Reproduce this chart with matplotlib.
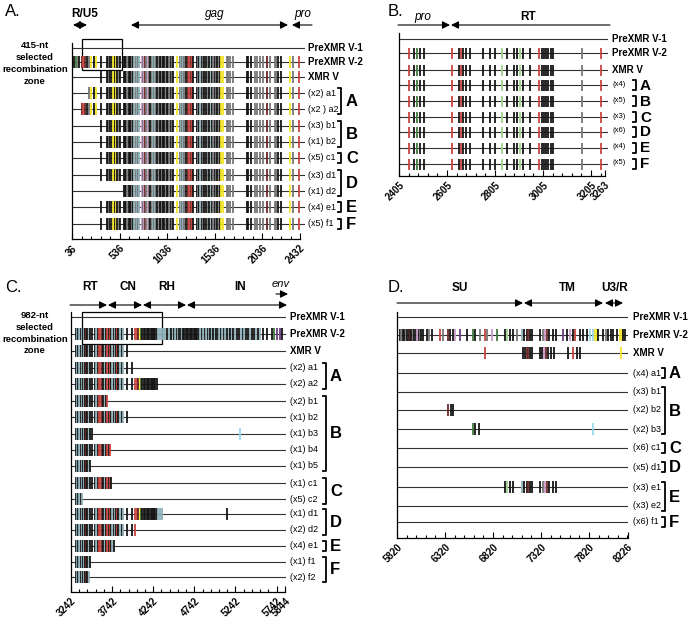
import matplotlib
matplotlib.use("Agg")
import matplotlib.pyplot as plt
from matplotlib.patches import Rectangle, FancyArrowPatch

plt.rcParams['font.family'] = ['Liberation Sans', 'DejaVu Sans']

# ---------------- data ----------------
# colour codes for the mutation ticks
COLORS = {'k': '#161616', 'g': '#777777', 'b': '#8fb0b8', 'p': '#c99ac9',
          'r': '#c8443e', 'd': '#6b2626', 'y': '#f2e526', 'n': '#3f7a3f',
          'l': '#9fd38f', 'c': '#9ad6e6', 'v': '#6b3d82'}

# panel A (nt 36-2432)
a_pos = [58, 75, 95, 112, 140, 155, 170, 190, 215, 240, 262, 290, 340,
         400, 412, 425, 438, 452, 470, 484, 498, 512, 526, 540,
         582, 594, 606, 618, 630, 642, 655, 668, 680,
         692, 704, 716, 728, 740,
         767, 780, 792, 804, 818, 830, 843, 855,
         872, 884, 896, 908, 920, 932, 946, 960,
         972, 984, 996, 1008, 1020, 1032, 1044, 1058, 1072, 1086, 1100,
         1135, 1170, 1182, 1194, 1206, 1218, 1230,
         1257, 1270, 1284, 1298, 1310,
         1345, 1358, 1370, 1384, 1398, 1412, 1425, 1440,
         1467, 1480, 1494, 1508, 1522, 1536, 1550, 1564, 1578, 1590,
         1607, 1622, 1660, 1680, 1700, 1730,
         1870, 1882, 1922, 1957, 1975, 2010, 2045, 2080, 2115, 2167, 2185,
         2202, 2237, 2325, 2360, 2420]
a_col = ("kngkdrdkgykyk"
         "kkgkkykykgk"
         "kkkgkkkgk"
         "bgbgb"
         "pgpdgpgk"
         "gbgbgkgk"
         "kgkkgkkgkgk"
         "ygbgbgk"
         "drdrk"
         "kgkbkgkk"
         "gkbkgkgkgk"
         "yygggg"
         "kkkggggdggg"
         "kkygr")
a_rows = ["PreXMR V-1", "PreXMR V-2", "XMR V", "(x2) a1", "(x2 ) a2", "(x3) b1",
          "(x1) b2", "(x5) c1", "(x3) d1", "(x1) d2", "(x4) e1", "(x5) f1"]
a_start = [None, 36, 340, 197, 137, 340, 295, 295, 340, 557, 340, 340]
a_groups = [("A", 3, 4), ("B", 5, 6), ("C", 7, 7), ("D", 8, 9), ("E", 10, 10), ("F", 11, 11)]

# panel B (nt 2405-3263)
b_pos = [2448, 2468, 2479, 2493, 2509, 2624, 2655, 2662, 2673, 2684, 2701,
         2754, 2784, 2805, 2833, 2854, 2884, 2895, 2909, 2920, 2951,
         2990, 3000, 3009, 3018, 3027, 3037, 3045, 3166, 3245]
b_col = "rknkkrkrkkkkkklkkklkkrkkkkkkgr"
b_rows = ["PreXMR V-1", "PreXMR V-2", "XMR V", "(x4)", "(x5)", "(x3)", "(x6)", "(x4)", "(x5)"]
b_letters = ["A", "B", "C", "D", "E", "F"]

# panel C (nt 3242-5844)
c_pos = [3303, 3316, 3330, 3345, 3358, 3372, 3386, 3400, 3414, 3428, 3441, 3455, 3469,
         3493, 3534, 3552, 3566, 3587, 3600, 3614, 3635, 3650, 3664, 3680, 3700, 3715,
         3729, 3745, 3760, 3775, 3789, 3805, 3818, 3838, 3858, 3875, 3919, 3980,
         4021, 4041, 4061, 4081, 4092, 4110, 4130, 4145, 4163, 4180, 4195, 4210, 4223,
         4240, 4252, 4268, 4284, 4305, 4325, 4345,
         4370, 4390, 4406, 4430, 4446, 4462, 4478, 4494, 4510, 4526, 4542, 4558, 4574,
         4590, 4606, 4622, 4638, 4655, 4670, 4686, 4700, 4716, 4732, 4748, 4764, 4780,
         4796, 4811, 4830, 4848, 4866, 4884, 4902, 4920, 4938, 4956, 4974, 4992, 5010,
         5028, 5046, 5064, 5082, 5100, 5120, 5140, 5160, 5180, 5200, 5217, 5240, 5262,
         5284, 5306, 5328, 5350, 5372, 5394, 5416, 5440, 5462, 5486, 5510, 5540, 5580,
         5622, 5683, 5705, 5744, 5785, 5810]
c_col = ("kbkbkbkbkdkbk"
         "kkbkrrdkbkrkr"
         "kbkbkrkbkbkk"
         "rrdynkkkkkkkk"
         "kkkkbbb"
         "bbkbbkbkbkbkk"
         "bkkkkkkkkkkkk"
         "kbkbkbkbkbkbk"
         "kbkbkbkbkbkbk"
         "kbkbkkbkkbkbkkk"
         "nvvkyy")
c_rows = ["PreXMR V-1", "PreXMR V-2", "XMR V", "(x2) a1", "(x2) a2", "(x2) b1",
          "(x1) b2", "(x1) b3", "(x1) b4", "(x1) b5", "(x1) c1", "(x5) c2",
          "(x1) d1", "(x2) d2", "(x4) e1", "(x1) f1", "(x2) f2"]
c_end = [None, 5844, 3919, 3980, 4284, 3680, 3919, 3510, 3717, 3473, 3741, 3376,
         4349, 4021, 3765, 3485, 3461]
c_extra = {7: [(5298, 'c')], 12: [(5140, 'k')]}
c_groups = [("A", 3, 4), ("B", 5, 9), ("C", 10, 11), ("D", 12, 13), ("E", 14, 14), ("F", 15, 16)]

# panel D (nt 5820-8226)
d_pos = [5851, 5865, 5880, 5895, 5910, 5925, 5940, 5955, 5970, 5985, 6000, 6015, 6030,
         6045, 6060, 6075, 6094, 6129, 6150, 6181, 6268, 6303, 6355, 6373, 6408, 6425,
         6477, 6546, 6616, 6633, 6685, 6737, 6754, 6807, 6859, 6946, 6963, 6998, 7025,
         7067, 7120, 7144, 7172, 7189, 7207, 7231, 7310, 7338, 7362, 7380, 7408, 7443,
         7478, 7554, 7590, 7623, 7650, 7675, 7727, 7760, 7797, 7832, 7863, 7884, 7900,
         7918, 7970, 8000, 8022, 8050, 8074, 8110, 8144, 8165, 8179, 8190]
d_col = ("kgkkgkkdkgkkp"
         "kgkkkgkrgdkkp"
         "vknkgrgpnklkk"
         "gbkkdkkkgpdkk"
         "kvkpkrkkkccyy"
         "kkgkkkkyykk")
d_xmrv_pos = [6737, 7137, 7155, 7172, 7189, 7207, 7231, 7310, 7330, 7350, 7368, 7390,
              7420, 7460, 7606, 7650, 7690, 7730, 8154]
d_xmrv_col = "rkkddkkkkpdkkkkrkky"
d_rows = ["PreXMR V-1", "PreXMR V-2", "XMR V", "(x4) a1", "(x3) b1", "(x2) b2",
          "(x2) b3", "(x6) c1", "(x5) d1", "(x3) e1", "(x3) e2", "(x6) f1"]
d_marks = {5: ([6355, 6380, 6408], "dkk"),
           6: ([6616, 6633, 6678, 7863], "nkkc"),
           9: ([6946, 6970, 6998, 7025, 7120, 7144, 7172, 7189, 7207, 7231,
                7310, 7338, 7362, 7380, 7408, 7443, 7478], "klkkbkkdkkkgpdkkk")}
d_groups = [("A", 3, 3), ("B", 4, 6), ("C", 7, 7), ("D", 8, 8), ("E", 9, 10), ("F", 11, 11)]

# ---------------- drawing ----------------
W, H = 691, 620
fig = plt.figure(figsize=(W / 100, H / 100), dpi=100)
over = fig.add_axes([0, 0, 1, 1])
over.set_xlim(0, W)
over.set_ylim(H, 0)
over.axis('off')


def panel(x0, px_end, line_px, nt0, nt1, axis_y, top_y, majors, minor_step):
    scale = (px_end - x0) / (nt1 - nt0)
    xr = nt0 + (line_px - x0) / scale
    ax = fig.add_axes([x0 / W, 1 - axis_y / H, (line_px - x0) / W, (axis_y - top_y) / H])
    ax.set_xlim(nt0, xr)
    ax.set_ylim(axis_y, top_y)
    ax.patch.set_alpha(0)
    for s in ['top', 'right']:
        ax.spines[s].set_visible(False)
    ax.spines['bottom'].set_bounds(nt0, nt1)
    ax.spines['left'].set_linewidth(0.9)
    ax.spines['bottom'].set_linewidth(0.9)
    ticks = majors + [nt1]
    ax.set_xticks(ticks)
    ax.set_xticklabels([str(t) for t in ticks], rotation=45, ha='right',
                       rotation_mode='anchor', fontweight='bold', fontsize=7)
    ax.set_xticks([t for t in range(nt0, nt1, minor_step) if t not in ticks], minor=True)
    ax.set_yticks([])
    ax.tick_params(axis='x', which='major', direction='in', length=4.5, width=0.8, pad=3)
    ax.tick_params(axis='x', which='minor', direction='in', length=2.5, width=0.8)
    return ax, xr


def marks(ax, y, pos, cols, h=6, lw=1.3):
    if not pos:
        return
    ax.vlines(pos, y - h, y + h, colors=[COLORS[c] for c in cols], lw=lw, clip_on=False)


def row_label(x, y, s):
    if s.startswith('('):
        over.text(x, y, s, fontsize=6.5, va='center', ha='left')
    else:
        over.text(x, y, s, fontsize=7, va='center', ha='left', fontweight='bold')


def bracket(bx, y0, y1, letter, lx, size=12):
    over.plot([bx - 3, bx, bx, bx - 3], [y0 - 5, y0 - 5, y1 + 5, y1 + 5], color='k', lw=1.3,
              solid_joinstyle='round')
    over.text(lx, (y0 + y1) / 2 + 0.5, letter, fontsize=size, fontweight='bold', va='center', ha='left')


def arrow(x0, x1, y, style):
    over.add_patch(FancyArrowPatch((x0, y), (x1, y), arrowstyle=style + ',head_length=0.5,head_width=0.25',
                                   mutation_scale=9, lw=0.8, color='k', shrinkA=0, shrinkB=0))


# ---- panel A ----
a_y = [48, 62, 77, 93, 109, 126, 142, 158, 175, 191, 207, 224]
axA, xrA = panel(72, 300, 305, 36, 2432, 239, 43, [36, 536, 1036, 1536, 2036], 100)
for i, name in enumerate(a_rows):
    axA.hlines(a_y[i], 36, xrA, color='#333333', lw=0.8)
    if a_start[i] is not None:
        sel = [(p, c) for p, c in zip(a_pos, a_col) if p >= a_start[i]]
        marks(axA, a_y[i], [p for p, _ in sel], [c for _, c in sel])
    row_label(308, a_y[i], name)
for letter, i0, i1 in a_groups:
    bracket(341, a_y[i0], a_y[i1], letter, 346)

over.text(5, 12, "A.", fontsize=12, va='center')
over.text(85, 14, "R/U5", fontsize=8.5, fontweight='bold', ha='center', va='center')
over.text(215, 14, "gag", fontsize=8.5, style='italic', ha='center', va='center')
over.text(303, 14, "pro", fontsize=8.5, style='italic', ha='center', va='center')
arrow(73, 80, 25, '<|-')
arrow(80, 87, 25, '-|>')
arrow(131, 288, 25, '<|-|>')
arrow(292, 312, 25, '<|-')
for k, s in enumerate(["415-nt", "selected", "recombination", "zone"]):
    over.text(35, 46 + 12 * k, s, fontsize=6.8, fontweight='bold', ha='center', va='center')
over.add_patch(Rectangle((82, 39), 40, 31, fill=False, lw=0.9, ec='k'))

# ---- panel B ----
b_y = [39, 53, 70, 85, 101, 117, 132, 148, 164]
axB, xrB = panel(399, 605, 608, 2405, 3263, 176, 33, [2405, 2605, 2805, 3005, 3205], 40)
for i, name in enumerate(b_rows):
    axB.hlines(b_y[i], 2405, xrB, color='#333333', lw=0.8)
    if i > 0:
        marks(axB, b_y[i], b_pos, b_col, h=5.5, lw=1.3)
    if i < 3:
        row_label(612, b_y[i], name)
    else:
        over.text(613, b_y[i] - 1, name, fontsize=5.5, va='center', ha='left')
        over.plot([633, 636, 636, 633], [b_y[i] - 5, b_y[i] - 5, b_y[i] + 5, b_y[i] + 5],
                  color='k', lw=1.3)
        over.text(640, b_y[i] + 0.5, b_letters[i - 3], fontsize=11, fontweight='bold',
                  va='center', ha='left')

over.text(388, 11, "B.", fontsize=12, va='center')
over.text(423, 17, "pro", fontsize=8.5, style='italic', ha='center', va='center')
over.text(528, 17, "RT", fontsize=8.5, fontweight='bold', ha='center', va='center')
arrow(398, 450, 25, '-|>')
arrow(451, 610, 25, '<|-')

# ---- panel C ----
c_y = [317, 334, 351, 368, 384, 401, 417, 434, 450, 466, 483, 499, 514, 530, 546, 562, 577]
axC, xrC = panel(71, 285, 286, 3242, 5844, 592, 312, [3242, 3742, 4242, 4742, 5242, 5742], 100)
for i, name in enumerate(c_rows):
    axC.hlines(c_y[i], 3242, xrC, color='#333333', lw=0.8)
    if c_end[i] is not None:
        sel = [(p, c) for p, c in zip(c_pos, c_col) if p <= c_end[i]]
        sel += c_extra.get(i, [])
        marks(axC, c_y[i], [p for p, _ in sel], [c for _, c in sel])
    row_label(290, c_y[i], name)
for letter, i0, i1 in c_groups:
    bracket(326, c_y[i0], c_y[i1], letter, 330)

over.text(5, 287, "C.", fontsize=12, va='center')
for s, x in [("RT", 90), ("CN", 128), ("RH", 167), ("IN", 240)]:
    over.text(x, 287, s, fontsize=8.5, fontweight='bold', ha='center', va='center')
over.text(281, 284, "env", fontsize=8, style='italic', ha='center', va='center')
arrow(276, 288, 294, '-|>')
arrow(70, 107, 305, '-|>')
arrow(108, 142, 305, '<|-|>')
arrow(143, 186, 305, '<|-|>')
arrow(187, 287, 305, '<|-|>')
for k, s in enumerate(["982-nt", "selected", "recombination", "zone"]):
    over.text(35, 316 + 11.5 * k, s, fontsize=6.8, fontweight='bold', ha='center', va='center')
over.add_patch(Rectangle((82, 312), 80, 32, fill=False, lw=0.9, ec='k'))

# ---- panel D ----
d_y = [317, 335, 353, 373, 392, 410, 429, 448, 467, 487, 506, 522]
axD, xrD = panel(397, 628, 628, 5820, 8226, 538, 312, [5820, 6320, 6820, 7320, 7820], 100)
for i, name in enumerate(d_rows):
    axD.hlines(d_y[i], 5820, xrD, color='#333333', lw=0.8)
    if i == 1:
        marks(axD, d_y[i], d_pos, d_col)
    elif i == 2:
        marks(axD, d_y[i], d_xmrv_pos, d_xmrv_col)
    elif i in d_marks:
        marks(axD, d_y[i], d_marks[i][0], d_marks[i][1])
    row_label(633, d_y[i], name)
for letter, i0, i1 in d_groups:
    bracket(665, d_y[i0], d_y[i1], letter, 669)

over.text(388, 287, "D.", fontsize=12, va='center')
over.text(460, 288, "SU", fontsize=8.5, fontweight='bold', ha='center', va='center')
over.text(567, 288, "TM", fontsize=8.5, fontweight='bold', ha='center', va='center')
over.text(615, 288, "U3/R", fontsize=8.5, fontweight='bold', ha='center', va='center')
arrow(397, 523, 303, '-|>')
arrow(524, 603, 303, '<|-|>')
arrow(605, 623, 303, '<|-|>')

fig.savefig("out.png", dpi=100)
